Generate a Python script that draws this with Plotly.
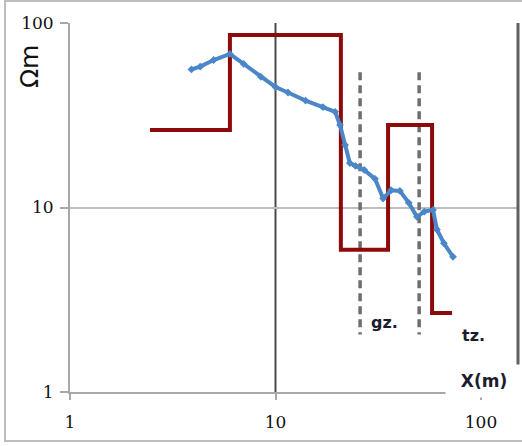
import plotly.graph_objects as go

# Measured (blue) apparent resistivity curve
x_meas = [3.9, 4.3, 5.0, 6.0, 7.0, 8.5, 10.0, 11.5, 14.0, 17.0, 19.5, 20.6, 21.8, 23.0, 24.5,
          27.0, 30.5, 33.4, 36.5, 40.3, 44.5, 48.8, 53.0, 58.4, 61.0, 66.0, 73.1]
y_meas = [56, 58, 63, 68, 60, 51, 45, 42, 38, 35, 33, 28, 21.8, 17.4, 16.8,
          16.0, 14.3, 11.2, 12.4, 12.3, 10.6, 8.9, 9.5, 9.7, 7.6, 6.4, 5.4]

# Model (red) layered step curve
x_model = [2.45, 6.0, 6.0, 20.8, 20.8, 35.3, 35.3, 57.8, 57.8, 72.3]
y_model = [26.3, 26.3, 86, 86, 5.9, 5.9, 28, 28, 2.68, 2.68]

# Dashed markers of zones
zone_x = [25.8, 50.0]
zone_y = [54, 2.05]
zone_labels = ["gz.", "tz."]

x_ticks = [1, 10, 100]
y_ticks = [1, 10, 100]

fig = go.Figure()

for zx in zone_x:
    fig.add_trace(go.Scatter(x=[zx, zx], y=zone_y, mode="lines",
                             line=dict(color="#6e6e6e", width=3.5, dash="8px,5px"),
                             showlegend=False, hoverinfo="skip"))

fig.add_trace(go.Scatter(x=x_model, y=y_model, mode="lines",
                         line=dict(color="#8c0a0a", width=4),
                         showlegend=False))

fig.add_trace(go.Scatter(x=x_meas, y=y_meas, mode="lines+markers",
                         line=dict(color="#4a86c8", width=4),
                         marker=dict(symbol="diamond", size=6, color="#4a86c8"),
                         showlegend=False))

tickfont = dict(family="DejaVu Serif", size=17, color="#111111")

fig.update_xaxes(type="log", range=[0, 2.18], tickvals=x_ticks,
                 ticktext=[str(v) for v in x_ticks],
                 showgrid=False, zeroline=False, automargin=False,
                 showline=True, linecolor="#a8a8a8", linewidth=2,
                 ticks="outside", ticklen=6, tickwidth=2, tickcolor="#a8a8a8",
                 tickfont=tickfont, ticklabelstandoff=8)
fig.update_yaxes(type="log", range=[0, 2], tickvals=y_ticks,
                 ticktext=[str(v) for v in y_ticks],
                 showgrid=True, gridcolor="#bdbdbd", gridwidth=2, zeroline=False,
                 automargin=False,
                 showline=True, linecolor="#a8a8a8", linewidth=2,
                 ticks="outside", ticklen=8, tickwidth=2, tickcolor="#a8a8a8",
                 tickfont=tickfont, ticklabelstandoff=3)

shapes = [
    # outer chart frame
    dict(type="rect", xref="paper", yref="paper", x0=-0.145, x1=1.03, y0=-0.1328, y1=1.0596,
         line=dict(color="#bdbdbd", width=2), layer="below"),
    # dark vertical gridline at x=10
    dict(type="line", xref="x", yref="paper", x0=10, x1=10, y0=0, y1=1,
         line=dict(color="#4a4a4a", width=2), layer="below"),
    # right plot border
    dict(type="line", xref="paper", yref="paper", x0=1, x1=1, y0=0.03, y1=1,
         line=dict(color="#606060", width=3)),
]

labfont = dict(family="DejaVu Sans", size=16, color="#1c1c2e")
annotations = [
    dict(text="<b>gz.</b>", xref="paper", yref="paper", x=0.703, y=0.187,
         xanchor="center", yanchor="middle", showarrow=False, font=labfont),
    dict(text="<b>tz.</b>", xref="paper", yref="paper", x=0.8996, y=0.152,
         xanchor="center", yanchor="middle", showarrow=False, font=labfont),
    dict(text="<b>X(m)</b>", xref="paper", yref="paper", x=0.925, y=0.03,
         xanchor="center", yanchor="middle", showarrow=False,
         font=dict(family="DejaVu Sans", size=17, color="#1c1c2e"),
         bgcolor="white", width=74, height=30),
    dict(text="Ωm", xref="paper", yref="paper", x=-0.089, y=0.881, textangle=-90,
         xanchor="center", yanchor="middle", showarrow=False,
         font=dict(family="DejaVu Sans", size=25, color="#111111")),
]

fig.update_layout(width=522, height=446, autosize=False,
                  margin=dict(l=70, r=4, t=23, b=54),
                  paper_bgcolor="white", plot_bgcolor="white",
                  shapes=shapes, annotations=annotations, showlegend=False)

fig.write_html("out.html", config={"displayModeBar": False},
               post_script="document.body.style.margin='0px';document.body.style.overflow='hidden';")
